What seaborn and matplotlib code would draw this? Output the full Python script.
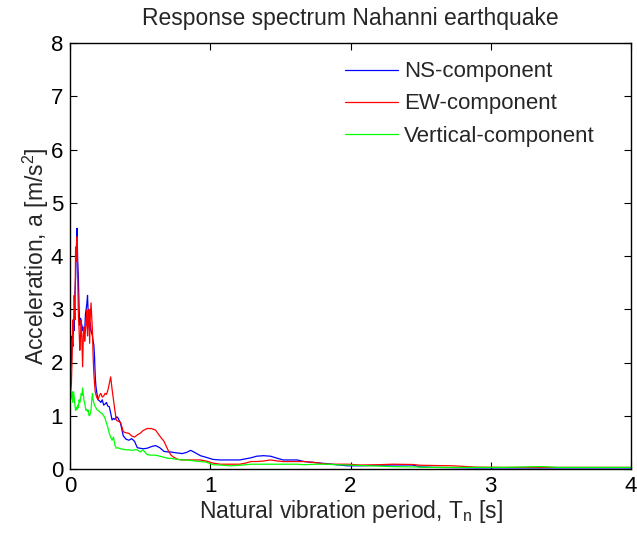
import matplotlib
matplotlib.use("Agg")
import matplotlib.pyplot as plt
import seaborn as sns
import pandas as pd

# Natural vibration period grid [s]
T = [0.005, 0.01, 0.015, 0.02, 0.025, 0.03, 0.035, 0.04, 0.045, 0.05,
     0.055, 0.06, 0.065, 0.07, 0.075, 0.08, 0.085, 0.09, 0.095, 0.10,
     0.105, 0.11, 0.115, 0.12, 0.125, 0.13, 0.135, 0.14, 0.145, 0.15,
     0.155, 0.16, 0.165, 0.17, 0.175, 0.18, 0.185, 0.19, 0.20, 0.21,
     0.22, 0.23, 0.24, 0.25, 0.26, 0.27, 0.28, 0.29, 0.30, 0.31,
     0.32, 0.33, 0.34, 0.36, 0.38, 0.40, 0.42, 0.44, 0.46, 0.48,
     0.50, 0.52, 0.55, 0.58, 0.61, 0.64, 0.67, 0.70, 0.72, 0.74,
     0.77, 0.80, 0.83, 0.86, 0.89, 0.93, 0.97, 1.02, 1.07, 1.14,
     1.21, 1.25, 1.29, 1.33, 1.38, 1.43, 1.48, 1.52, 1.58, 1.62,
     1.67, 1.75, 1.83, 1.90, 1.98, 2.07, 2.20, 2.30, 2.44, 2.50,
     2.60, 2.73, 2.90, 3.10, 3.36, 3.48, 3.70, 4.00]

NS = [1.9, 2.0, 2.5, 2.3, 2.7, 2.6, 3.3, 3.6, 4.1, 4.52,
      3.9, 3.58, 3.0, 2.7, 2.83, 2.75, 2.7, 2.6, 2.65, 2.55,
      2.6, 2.9, 3.0, 3.1, 3.26, 2.9, 2.7, 2.6, 2.75, 2.6,
      2.55, 2.5, 2.4, 2.33, 2.1, 1.73, 1.55, 1.45, 1.3, 1.28,
      1.25, 1.3, 1.2, 1.22, 1.25, 1.18, 1.17, 1.05, 0.92, 0.95,
      0.93, 0.98, 0.97, 0.86, 0.62, 0.56, 0.54, 0.57, 0.52, 0.40,
      0.39, 0.38, 0.39, 0.42, 0.44, 0.40, 0.33, 0.32, 0.32, 0.31,
      0.30, 0.29, 0.31, 0.35, 0.31, 0.25, 0.22, 0.18, 0.17, 0.17,
      0.17, 0.19, 0.21, 0.24, 0.25, 0.24, 0.20, 0.17, 0.17, 0.17,
      0.14, 0.12, 0.10, 0.08, 0.06, 0.06, 0.07, 0.075, 0.075, 0.04,
      0.03, 0.025, 0.02, 0.02, 0.02, 0.02, 0.02, 0.02]

EW = [1.45, 1.6, 2.1, 2.8, 2.6, 3.26, 2.8, 4.17, 3.9, 4.36,
      3.6, 2.86, 2.6, 2.23, 2.5, 2.8, 2.4, 1.92, 2.5, 2.67,
      2.4, 2.6, 2.74, 2.98, 2.5, 2.8, 3.0, 2.36, 2.89, 3.12,
      2.85, 2.6, 2.1, 1.8, 1.6, 1.45, 1.4, 1.35, 1.3, 1.38,
      1.42, 1.35, 1.37, 1.42, 1.4, 1.48, 1.6, 1.73, 1.5, 1.3,
      1.1, 0.92, 0.90, 0.88, 0.70, 0.68, 0.67, 0.62, 0.60, 0.64,
      0.67, 0.72, 0.76, 0.76, 0.73, 0.62, 0.52, 0.35, 0.26, 0.22,
      0.18, 0.17, 0.17, 0.17, 0.17, 0.17, 0.15, 0.11, 0.09, 0.09,
      0.09, 0.11, 0.14, 0.14, 0.15, 0.17, 0.15, 0.14, 0.14, 0.14,
      0.14, 0.12, 0.09, 0.09, 0.09, 0.075, 0.08, 0.09, 0.085, 0.07,
      0.065, 0.06, 0.035, 0.03, 0.03, 0.03, 0.03, 0.03]

VERT = [1.3, 1.35, 1.45, 1.25, 1.45, 1.35, 1.2, 1.1, 1.15, 1.12,
        1.2, 1.15, 1.3, 1.25, 1.32, 1.42, 1.38, 1.52, 1.4, 1.28,
        1.24, 1.15, 1.1, 1.12, 1.08, 1.1, 1.01, 1.0, 1.05, 1.1,
        1.3, 1.42, 1.3, 1.24, 1.2, 1.17, 1.15, 1.12, 1.1, 1.08,
        1.05, 1.04, 1.0, 0.95, 0.86, 0.78, 0.67, 0.6, 0.54, 0.6,
        0.45, 0.39, 0.40, 0.38, 0.37, 0.36, 0.36, 0.35, 0.36, 0.36,
        0.32, 0.36, 0.27, 0.26, 0.26, 0.24, 0.22, 0.20, 0.20, 0.19,
        0.18, 0.17, 0.17, 0.16, 0.15, 0.14, 0.13, 0.08, 0.075, 0.06,
        0.07, 0.08, 0.09, 0.09, 0.09, 0.09, 0.09, 0.09, 0.09, 0.09,
        0.08, 0.09, 0.09, 0.08, 0.075, 0.065, 0.055, 0.045, 0.04, 0.035,
        0.03, 0.03, 0.03, 0.03, 0.045, 0.03, 0.03, 0.03]

SERIES = ["NS-component", "EW-component", "Vertical-component"]
COLORS = ["#0000ff", "#ff0000", "#00ff00"]
XTICKS = [0, 1, 2, 3, 4]
YTICKS = [0, 1, 2, 3, 4, 5, 6, 7, 8]

frames = []
for name, vals in zip(SERIES, [NS, EW, VERT]):
    frames.append(pd.DataFrame({"T": T, "a": vals, "series": name}))
df = pd.concat(frames, ignore_index=True)

sns.set_style("white")
plt.rcParams["font.family"] = ["Liberation Sans", "DejaVu Sans"]
plt.rcParams["mathtext.fontset"] = "custom"
plt.rcParams["mathtext.rm"] = "Liberation Sans"
plt.rcParams["mathtext.it"] = "Liberation Sans"
plt.rcParams["mathtext.bf"] = "Liberation Sans:bold"

fig = plt.figure(figsize=(6.37, 5.40), dpi=100)
ax = fig.add_axes([70 / 637, 1 - 469 / 540, 561 / 637, 426 / 540])

sns.lineplot(data=df, x="T", y="a", hue="series", hue_order=SERIES,
             palette=COLORS, linewidth=0.9, sort=False, estimator=None, ax=ax)

ax.set_xlim(0, 4)
ax.set_ylim(0, 8)
ax.set_xticks(XTICKS)
ax.set_yticks(YTICKS)
ax.set_xticklabels([str(v) for v in XTICKS])
ax.set_yticklabels([str(v) for v in YTICKS])
ax.tick_params(direction="in", length=5, width=0.8, labelsize=16,
               top=True, right=True, bottom=True, left=True, colors="black",
               pad=5)
for s in ax.spines.values():
    s.set_visible(True)
    s.set_color("black")
    s.set_linewidth(1.0)

ax.set_xlabel("Natural vibration period, T$_\\mathregular{n}$ [s]", fontsize=16.5, labelpad=1)
ax.set_ylabel("Acceleration, a [m/s$^\\mathregular{2}$]", fontsize=16.5, labelpad=0)
ax.set_title("Response spectrum Nahanni earthquake", fontsize=16.5, pad=13)

leg = ax.legend(loc="upper left", bbox_to_anchor=(0.49, 0.957), frameon=False,
                fontsize=16, handlelength=2.4, handletextpad=0.25,
                labelspacing=0.5, borderpad=0, borderaxespad=0)
for line in leg.get_lines():
    line.set_linewidth(0.9)

fig.savefig("out.png", dpi=100, facecolor="white")
